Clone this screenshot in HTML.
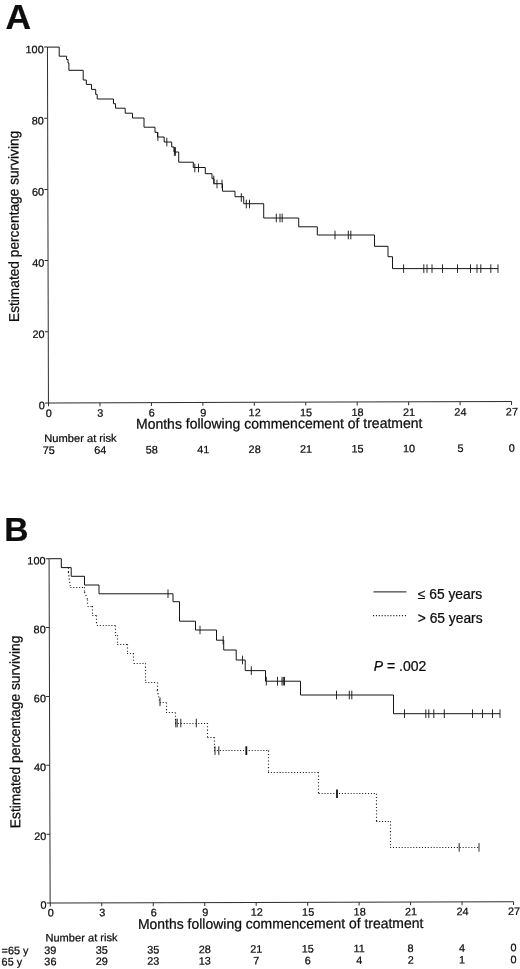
<!DOCTYPE html>
<html><head><meta charset="utf-8"><title>Figure</title>
<style>html,body{margin:0;padding:0;background:#fff;}svg{display:block;}text{font-family:"Liberation Sans",sans-serif;fill:#0a0a0a;stroke:#0a0a0a;stroke-width:0.22px;}</style></head><body>
<svg width="520" height="969" viewBox="0 0 520 969">
<rect width="520" height="969" fill="#ffffff"/>
<defs><filter id="bl" x="0" y="0" width="520" height="969" filterUnits="userSpaceOnUse"><feGaussianBlur stdDeviation="0.3"/></filter></defs>
<g filter="url(#bl)">
<text x="5.6" y="28.8" font-size="34.6" text-anchor="start" font-weight="bold" textLength="25.6" lengthAdjust="spacingAndGlyphs">A</text>
<g transform="rotate(-0.16 48.45 402.9)">
<path d="M48.45,47.1V402.9H511.6" fill="none" stroke="#2e2e2e" stroke-width="1.0"/>
<path d="M48.5,402.9v3.4M99.95,402.9v3.4M151.4,402.9v3.4M202.85,402.9v3.4M254.3,402.9v3.4M305.75,402.9v3.4M357.2,402.9v3.4M408.65,402.9v3.4M460.1,402.9v3.4M511.55,402.9v3.4M48.45,403.0h-3.4M48.45,331.8h-3.4M48.45,260.6h-3.4M48.45,189.4h-3.4M48.45,118.2h-3.4M48.45,47.0h-3.4" fill="none" stroke="#2e2e2e" stroke-width="1"/>
<text x="44.7" y="409.2" font-size="10.9" text-anchor="end" >0</text>
<text x="44.7" y="338.0" font-size="10.9" text-anchor="end" >20</text>
<text x="44.7" y="266.8" font-size="10.9" text-anchor="end" >40</text>
<text x="44.7" y="195.6" font-size="10.9" text-anchor="end" >60</text>
<text x="44.7" y="124.4" font-size="10.9" text-anchor="end" >80</text>
<text x="44.7" y="53.2" font-size="10.9" text-anchor="end" >100</text>
<text x="48.8" y="416.9" font-size="10.9" text-anchor="middle" >0</text>
<text x="100.25" y="416.9" font-size="10.9" text-anchor="middle" >3</text>
<text x="151.7" y="416.9" font-size="10.9" text-anchor="middle" >6</text>
<text x="203.15" y="416.9" font-size="10.9" text-anchor="middle" >9</text>
<text x="254.6" y="416.9" font-size="10.9" text-anchor="middle" >12</text>
<text x="306.05" y="416.9" font-size="10.9" text-anchor="middle" >15</text>
<text x="357.5" y="416.9" font-size="10.9" text-anchor="middle" >18</text>
<text x="408.95" y="416.9" font-size="10.9" text-anchor="middle" >21</text>
<text x="460.4" y="416.9" font-size="10.9" text-anchor="middle" >24</text>
<text x="511.85" y="416.9" font-size="10.9" text-anchor="middle" >27</text>
<text x="135.9" y="429" font-size="14.3" textLength="286.5" lengthAdjust="spacingAndGlyphs">Months following commencement of treatment</text>
<text transform="translate(19.2,321.9) rotate(-90)" font-size="14.3" textLength="191.2" lengthAdjust="spacingAndGlyphs">Estimated percentage surviving</text>
<text x="44.2" y="442.0" font-size="10.9" text-anchor="start" textLength="72.4" lengthAdjust="spacingAndGlyphs">Number at risk</text>
<text x="48.7" y="454.0" font-size="10.9" text-anchor="middle" >75</text>
<text x="100.15" y="453.9" font-size="10.9" text-anchor="middle" >64</text>
<text x="151.6" y="453.79" font-size="10.9" text-anchor="middle" >58</text>
<text x="203.05" y="453.69" font-size="10.9" text-anchor="middle" >41</text>
<text x="254.5" y="453.59" font-size="10.9" text-anchor="middle" >28</text>
<text x="305.95" y="453.48" font-size="10.9" text-anchor="middle" >21</text>
<text x="357.4" y="453.38" font-size="10.9" text-anchor="middle" >15</text>
<text x="408.85" y="453.28" font-size="10.9" text-anchor="middle" >10</text>
<text x="460.3" y="453.18" font-size="10.9" text-anchor="middle" >5</text>
<text x="511.75" y="453.07" font-size="10.9" text-anchor="middle" >0</text>
</g>
<path d="M47.6,47.1H59.2V56.2H66.6V59.5H68V63H68.9V70.3H83.2V80H86.3V84.4H91.5V89.4H95.7V94.4H97.2V99H113.5V103.7H115.5V108.2H125.2V113.2H132.5V118H144V127.2H155V132.3H157.5V137H164.2V142H171.7V147H174V152H178.7V162.2H193.3V167.5H205.3V173.7H212V178.7H214V183.7H222.5V191.2H235V196.7H243.7V203.7H263.7V218H298.7V226.8H317.3V235H374.5V246.3H388V256.7H392.5V268.6H498" fill="none" stroke="#151515" stroke-width="1.0" stroke-linejoin="miter"/>
<path d="M157.9,132.3V140.9M166.8,137.7V146.3M174.4,147.2V155.8M175.4,147.2V155.8M194.8,163.7V172.3M198.5,163.7V172.3M213.8,175.7V184.3M217,179.7V188.3M222,179.7V188.3M241.3,193.2V201.8M246.3,199.7V208.3M249.5,199.7V208.3M276.3,213.7V222.3M280,213.7V222.3M282.2,213.7V222.3M335,230.7V239.3M348.3,230.7V239.3M350.8,230.7V239.3M403.6,264.3V272.9M423.8,264.3V272.9M427,264.3V272.9M432,264.3V272.9M442.5,264.3V272.9M457.5,264.3V272.9M470.5,264.3V272.9M477,264.3V272.9M480.8,264.3V272.9M490.8,264.3V272.9M498,264.3V272.9" fill="none" stroke="#151515" stroke-width="0.92"/>
<text x="4.3" y="541.3" font-size="33.6" text-anchor="start" font-weight="bold">B</text>
<g transform="rotate(-0.18 50.15 903.1)">
<path d="M50.15,558.7V903.1H513.6" fill="none" stroke="#2e2e2e" stroke-width="1.0"/>
<path d="M50.3,903.1v3.4M101.77,903.1v3.4M153.24,903.1v3.4M204.71,903.1v3.4M256.18,903.1v3.4M307.65,903.1v3.4M359.12,903.1v3.4M410.59,903.1v3.4M462.06,903.1v3.4M513.53,903.1v3.4M50.15,903.1h-3.4M50.15,834.22h-3.4M50.15,765.34h-3.4M50.15,696.46h-3.4M50.15,627.58h-3.4M50.15,558.7h-3.4" fill="none" stroke="#2e2e2e" stroke-width="1"/>
<text x="46.6" y="908.8" font-size="10.9" text-anchor="end" >0</text>
<text x="46.6" y="839.92" font-size="10.9" text-anchor="end" >20</text>
<text x="46.6" y="771.04" font-size="10.9" text-anchor="end" >40</text>
<text x="46.6" y="702.16" font-size="10.9" text-anchor="end" >60</text>
<text x="46.6" y="633.28" font-size="10.9" text-anchor="end" >80</text>
<text x="46.6" y="564.4" font-size="10.9" text-anchor="end" >100</text>
<text x="50.8" y="916.5" font-size="10.9" text-anchor="middle" >0</text>
<text x="102.27" y="916.5" font-size="10.9" text-anchor="middle" >3</text>
<text x="153.74" y="916.5" font-size="10.9" text-anchor="middle" >6</text>
<text x="205.21" y="916.5" font-size="10.9" text-anchor="middle" >9</text>
<text x="256.68" y="916.5" font-size="10.9" text-anchor="middle" >12</text>
<text x="308.15" y="916.5" font-size="10.9" text-anchor="middle" >15</text>
<text x="359.62" y="916.5" font-size="10.9" text-anchor="middle" >18</text>
<text x="411.09" y="916.5" font-size="10.9" text-anchor="middle" >21</text>
<text x="462.56" y="916.5" font-size="10.9" text-anchor="middle" >24</text>
<text x="514.03" y="916.5" font-size="10.9" text-anchor="middle" >27</text>
<text x="137.9" y="929.2" font-size="14.3" textLength="285.4" lengthAdjust="spacingAndGlyphs">Months following commencement of treatment</text>
<text transform="translate(20.5,828.1) rotate(-90)" font-size="14.3" textLength="192.6" lengthAdjust="spacingAndGlyphs">Estimated percentage surviving</text>
<text x="45.3" y="941.5" font-size="10.9" text-anchor="start" textLength="72.2" lengthAdjust="spacingAndGlyphs">Number at risk</text>
<text x="1.4" y="954.2" font-size="10.9" text-anchor="start" >=65 y</text>
<text x="1.4" y="965.4" font-size="10.9" text-anchor="start" >65 y</text>
<text x="50.2" y="954.0" font-size="10.9" text-anchor="middle" >39</text>
<text x="50.2" y="965.3" font-size="10.9" text-anchor="middle" >36</text>
<text x="101.67" y="953.87" font-size="10.9" text-anchor="middle" >35</text>
<text x="101.67" y="965.23" font-size="10.9" text-anchor="middle" >29</text>
<text x="153.14" y="953.73" font-size="10.9" text-anchor="middle" >35</text>
<text x="153.14" y="965.17" font-size="10.9" text-anchor="middle" >23</text>
<text x="204.61" y="953.6" font-size="10.9" text-anchor="middle" >28</text>
<text x="204.61" y="965.1" font-size="10.9" text-anchor="middle" >13</text>
<text x="256.08" y="953.46" font-size="10.9" text-anchor="middle" >21</text>
<text x="256.08" y="965.03" font-size="10.9" text-anchor="middle" >7</text>
<text x="307.55" y="953.33" font-size="10.9" text-anchor="middle" >15</text>
<text x="307.55" y="964.97" font-size="10.9" text-anchor="middle" >6</text>
<text x="359.02" y="953.2" font-size="10.9" text-anchor="middle" >11</text>
<text x="359.02" y="964.9" font-size="10.9" text-anchor="middle" >4</text>
<text x="410.49" y="953.06" font-size="10.9" text-anchor="middle" >8</text>
<text x="410.49" y="964.83" font-size="10.9" text-anchor="middle" >2</text>
<text x="461.96" y="952.93" font-size="10.9" text-anchor="middle" >4</text>
<text x="461.96" y="964.76" font-size="10.9" text-anchor="middle" >1</text>
<text x="513.43" y="952.79" font-size="10.9" text-anchor="middle" >0</text>
<text x="513.43" y="964.7" font-size="10.9" text-anchor="middle" >0</text>
</g>
<path d="M373.5,591.9H406.4" stroke="#151515" stroke-width="1.0"/>
<path d="M373,615.6H407.1" stroke="#1c1c1c" stroke-width="1.15" stroke-dasharray="1.05 1.85"/>
<text x="417.8" y="598.6" font-size="13.8" text-anchor="start" >&#8804; 65 years</text>
<text x="417.8" y="623.0" font-size="13.8" text-anchor="start" >&gt; 65 years</text>
<text x="373.8" y="671.2" font-size="14"><tspan font-style="italic">P</tspan> = .002</text>
<path d="M49.2,558.7H61.3V567.6H71.2V576.3H84.5V585H99V593.8H173V601.7H179.5V621.2H195.5V630H216.5V640.2H223.7V650H236.2V660H245.2V670.6H265.5V681.2H300.5V695H393.5V713.7H500" fill="none" stroke="#151515" stroke-width="1.0"/>
<path d="M168,589.5V598.1M200,625.7V634.3M223.2,635.9V644.5M242.5,655.7V664.3M251.3,666.3V674.9M266.3,676.9V685.5M277.5,676.9V685.5M282,676.9V685.5M283.3,676.9V685.5M284.5,676.9V685.5M336.5,690.7V699.3M349.3,690.7V699.3M351.8,690.7V699.3M404.5,709.4V718.0M425.8,709.4V718.0M428.8,709.4V718.0M433.8,709.4V718.0M444.3,709.4V718.0M472.5,709.4V718.0M482.5,709.4V718.0M492.5,709.4V718.0M500,709.4V718.0" fill="none" stroke="#151515" stroke-width="0.92"/>
<path d="M61.4,567.5H68.4M70.4,587.5H84.5M87.6,606.5H92.3M92.3,615.5H96.9M96.9,625.5H115.0M115.0,635.5H117.3M117.3,644.5H127.0M127.0,653.5H133.8M133.8,663.5H145.4M145.4,682.5H157.2M159.8,702.5H166.0M166.0,712.5H175.0M175.0,723.5H207.5M207.5,737.5H214.0M214.0,750.5H268.0M268.0,772.5H318.7M318.7,793.5H376.2M376.2,821.5H390.1M390.1,847.5H479.0" fill="none" stroke="#1c1c1c" stroke-width="1.15" stroke-dasharray="1.05 1.85"/>
<path d="M68.5,567.8V572.0M68.4,572.0L70.4,587.2M84.5,587.2V592.0M84.5,592.0L87.6,599.5M87.5,599.5V606.1M92.5,606.1V615.5M96.5,615.5V625.4M115.5,625.4V635.2M117.5,635.2V644.2M127.5,644.2V653.2M133.5,653.2V663.3M145.5,663.3V682.5M157.5,682.5V690.0M157.2,690.0L159.8,702.5M166.5,702.5V712.5M175.5,712.5V723.0M207.5,723.0V737.2M214.5,737.2V750.6M268.5,750.6V772.3M318.5,772.3V793.7M376.5,793.7V821.2M390.5,821.2V847.4" fill="none" stroke="#1c1c1c" stroke-width="1.15" stroke-dasharray="1.05 2.25"/>
<path d="M160,697.5V706.1M175.8,718.7V727.3M177.2,718.7V727.3M180.8,718.7V727.3M196.3,718.7V727.3M215,746.3V754.9M218.8,746.3V754.9M459.2,843.1V851.7M479,843.1V851.7" fill="none" stroke="#151515" stroke-width="0.92"/>
<path d="M246.3,746.3V754.9M337,789.4V798.0" fill="none" stroke="#151515" stroke-width="1.8"/>
</g>
</svg></body></html>
